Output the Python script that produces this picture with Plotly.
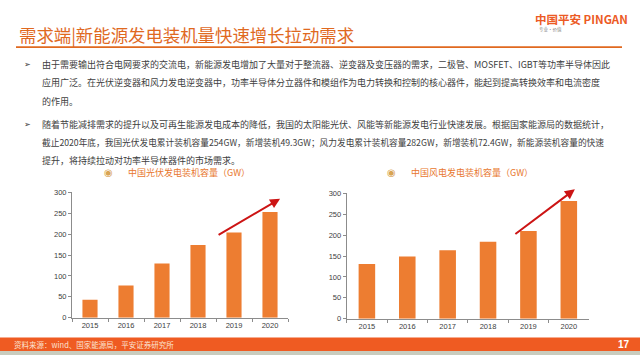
import plotly.graph_objects as go

# ---------------- data ----------------
years = ["2015", "2016", "2017", "2018", "2019", "2020"]
pv_capacity = [43, 77, 130, 174, 204, 253]        # 中国光伏发电装机容量 (GW)
wind_capacity = [131, 149, 164, 184, 210, 282]    # 中国风电发电装机容量 (GW)
y_ticks = [0, 50, 100, 150, 200, 250, 300]

page_title = "需求端|新能源发电装机量快速增长拉动需求"
pv_title = "中国光伏发电装机容量（GW）"
wind_title = "中国风电发电装机容量（GW）"
body_lines = [
    "由于需要输出符合电网要求的交流电，新能源发电增加了大量对于整流器、逆变器及变压器的需求，二极管、MOSFET、IGBT等功率半导体因此",
    "应用广泛。在光伏逆变器和风力发电逆变器中，功率半导体分立器件和模组作为电力转换和控制的核心器件，能起到提高转换效率和电流密度",
    "的作用。",
    "随着节能减排需求的提升以及可再生能源发电成本的降低，我国的太阳能光伏、风能等新能源发电行业快速发展。根据国家能源局的数据统计，",
    "截止2020年底，我国光伏发电累计装机容量254GW，新增装机49.3GW；风力发电累计装机容量282GW，新增装机72.4GW，新能源装机容量的快速",
    "提升，将持续拉动对功率半导体器件的市场需求。",
]
source_text = "资料来源：wind、国家能源局，平安证券研究所"
page_no = "17"

# ---------------- styles ----------------
W, H = 640, 360
BAR = "#ED7D31"
ORANGE = "#E0691F"
AXIS = "#8C8C8C"
TXT = "#404040"
CJK = "Noto Sans CJK SC"
LAT = "Liberation Sans, Arial"

def px(x):
    return x / W

def py(y):
    return 1 - y / H

fig = go.Figure()
fig.add_trace(go.Bar(x=years, y=pv_capacity, xaxis="x", yaxis="y",
                     marker=dict(color=BAR, line=dict(width=0)), width=0.42,
                     hoverinfo="x+y"))
fig.add_trace(go.Bar(x=years, y=wind_capacity, xaxis="x2", yaxis="y2",
                     marker=dict(color=BAR, line=dict(width=0)), width=0.41,
                     hoverinfo="x+y"))

def xaxis_cfg(dom, anchor):
    return dict(domain=dom, anchor=anchor, type="category", showline=True,
                linecolor=AXIS, linewidth=1, ticks="outside", tickson="boundaries",
                ticklen=3, tickcolor=AXIS, showgrid=False, zeroline=False,
                tickfont=dict(family=LAT, size=7.5, color="#404040"), fixedrange=True)

def yaxis_cfg(dom, anchor):
    return dict(domain=dom, anchor=anchor, range=[0, 300], tickvals=y_ticks,
                showline=True, linecolor=AXIS, linewidth=1, ticks="outside",
                ticklen=3, tickcolor=AXIS, showgrid=False, zeroline=False,
                tickfont=dict(family=LAT, size=7.5, color="#404040"), fixedrange=True)

annotations = []

# page title
annotations.append(dict(xref="paper", yref="paper", x=px(17), y=py(31), xanchor="left",
                        yanchor="middle", text=page_title, showarrow=False,
                        font=dict(family=CJK, size=17.4, color=ORANGE)))
# logo
annotations.append(dict(xref="paper", yref="paper", x=px(630), y=py(15), xanchor="right",
                        yanchor="middle", text="<b>中国平安 PINGAN</b>", showarrow=False,
                        font=dict(family=CJK, size=11.5, color="#EC5A24")))
annotations.append(dict(xref="paper", yref="paper", x=px(537), y=py(26), xanchor="left",
                        yanchor="middle", text="专业·价值", showarrow=False,
                        font=dict(family=CJK, size=4.5, color="#888888")))

# body text
line_y = [62.5, 81, 99.5, 123.5, 142.5, 160.5]
line_size = [9, 9, 9, 9, 8.7, 9]
bullet_rows = [0, 3]
for i, (txt, yy) in enumerate(zip(body_lines, line_y)):
    annotations.append(dict(xref="paper", yref="paper", x=px(40), y=py(yy), xanchor="left",
                            yanchor="middle", text=txt, showarrow=False,
                            font=dict(family=CJK, size=line_size[i], color=TXT)))
    if i in bullet_rows:
        annotations.append(dict(xref="paper", yref="paper", x=px(27), y=py(yy), xanchor="center",
                                yanchor="middle", text="➢", showarrow=False,
                                font=dict(family="DejaVu Sans", size=8, color="#333333")))

# chart titles with icons
for icon_x, text_x, title in [(108, 126, pv_title), (391, 409, wind_title)]:
    annotations.append(dict(xref="paper", yref="paper", x=px(icon_x), y=py(173), xanchor="center",
                            yanchor="middle", text="◉", showarrow=False,
                            font=dict(family="DejaVu Sans", size=10, color="#D8A453")))
    annotations.append(dict(xref="paper", yref="paper", x=px(text_x), y=py(173), xanchor="left",
                            yanchor="middle", text=title, showarrow=False,
                            font=dict(family=CJK, size=9, color="#E8772E")))

# trend arrows (in data coordinates)
annotations.append(dict(xref="x", yref="y", axref="x", ayref="y", x=5.28, y=285, ax=3.53, ay=196,
                        showarrow=True, arrowhead=2, arrowsize=1, arrowwidth=2,
                        arrowcolor="#CC1414", standoff=0, text=""))
annotations.append(dict(xref="x2", yref="y2", axref="x2", ayref="y2", x=5.15, y=310, ax=3.64, ay=200,
                        showarrow=True, arrowhead=2, arrowsize=1, arrowwidth=2,
                        arrowcolor="#CC1414", standoff=0, text=""))

# footer text
annotations.append(dict(xref="paper", yref="paper", x=px(12), y=py(349), xanchor="left",
                        yanchor="middle", text=source_text, showarrow=False,
                        font=dict(family=CJK, size=7.5, color="#FBE3D2")))
annotations.append(dict(xref="paper", yref="paper", x=px(632), y=py(349), xanchor="right",
                        yanchor="middle", text="<b>" + page_no + "</b>", showarrow=False,
                        font=dict(family=LAT, size=10, color="#FFFFFF")))

shapes = [
    dict(type="line", xref="paper", yref="paper", x0=px(16), x1=px(622), y0=py(44.3), y1=py(44.3),
         line=dict(color=ORANGE, width=1.8)),
    dict(type="rect", xref="paper", yref="paper", x0=0, x1=1, y0=py(356), y1=py(342),
         line=dict(width=0), fillcolor="#EF5B22", layer="below"),
    dict(type="rect", xref="paper", yref="paper", x0=0, x1=1, y0=0, y1=py(356),
         line=dict(width=0), fillcolor="#C9CCBE", layer="below"),
]

fig.update_layout(
    width=W, height=H,
    margin=dict(l=0, r=0, t=0, b=0),
    paper_bgcolor="white", plot_bgcolor="white",
    showlegend=False,
    bargap=0.58,
    xaxis=xaxis_cfg([px(72), px(288)], "y"),
    yaxis=yaxis_cfg([py(321.7), py(193.3)], "x"),
    xaxis2=xaxis_cfg([px(346.7), px(589)], "y2"),
    yaxis2=yaxis_cfg([py(322.7), py(194.3)], "x2"),
    annotations=annotations,
    shapes=shapes,
)

fig.write_html("out.html", config={"displayModeBar": False},
               post_script="document.body.style.margin='0px';document.body.style.overflow='hidden';")
